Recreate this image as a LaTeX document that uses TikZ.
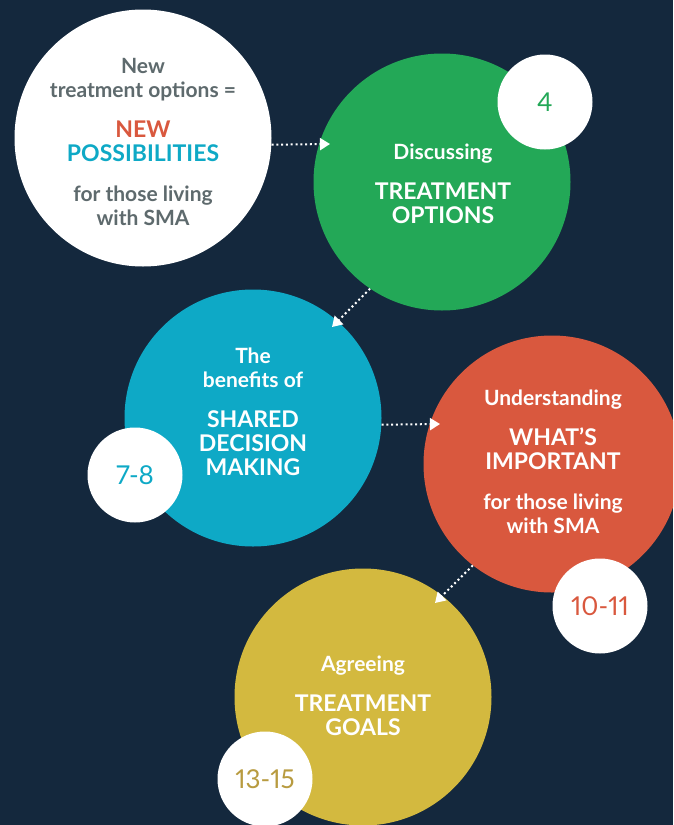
\documentclass[tikz,border=0pt]{standalone}
\usepackage{fontspec}
\setmainfont{Lato}
\newfontfamily\numfont{Lato}[Numbers=Proportional]
\usetikzlibrary{positioning, arrows.meta}

\definecolor{navy}{HTML}{14283D}
\definecolor{grn}{HTML}{23A857}
\definecolor{blu}{HTML}{0EA9C6}
\definecolor{orng}{HTML}{D9583E}
\definecolor{ylw}{HTML}{D3B93F}
\definecolor{gold}{HTML}{B89B40}
\definecolor{greytxt}{HTML}{5E6A6D}

\newcommand{\bigcaps}[1]{{\fontsize{23}{24}\selectfont #1}}

\tikzset{
  bigdisc/.style={circle, minimum size=257pt, inner sep=0pt},
  pagedisc/.style={circle, fill=white, minimum size=95pt, inner sep=0pt,
    font=\numfont\fontsize{26}{26}\selectfont},
  blurb/.style={align=center, inner sep=0pt, anchor=north, text=white,
    font=\bfseries\fontsize{21}{24}\selectfont},
  flow/.style={draw=white, line width=2pt, dash pattern=on 2pt off 2.8pt,
    -{Triangle[length=10pt,width=12pt]}}
}

\begin{document}
\begin{tikzpicture}[x=1pt, y=-1pt]
\useasboundingbox (0,0) rectangle (673,825);
\clip (0,0) rectangle (673,825);
\fill[navy] (0,0) rectangle (673,825);

% big circles
\node[bigdisc, fill=white] (newopt) at (143,138) {};
\node[bigdisc, fill=grn] (discuss) at (442,182) {};
\node[bigdisc, fill=blu] (shared) at (253,418) {};
\node[bigdisc, fill=orng] (important) at (552,464) {};
\node[bigdisc, fill=ylw] (goals) at (363,697) {};

% texts
\node[blurb, text=greytxt] (newtxt) at (143,58) {New\\treatment options =\\[16pt]
  \bigcaps{\textcolor{orng}{NEW}}\\\bigcaps{\textcolor{blu}{POSSIBILITIES}}\\[16pt]for those living\\with SMA};
\node[blurb] (discusstxt) at (443,144) {Discussing\\[16pt]\bigcaps{TREATMENT}\\\bigcaps{OPTIONS}};
\node[blurb] (sharedtxt) at (253,348) {The\\benefits of\\[16pt]\bigcaps{SHARED}\\\bigcaps{DECISION}\\\bigcaps{MAKING}};
\node[blurb] (importtxt) at (553,390) {Understanding\\[16pt]\bigcaps{WHAT’S}\\\bigcaps{IMPORTANT}\\[16pt]for those living\\with SMA};
\node[blurb] (goalstxt) at (363,656) {Agreeing\\[16pt]\bigcaps{TREATMENT}\\\bigcaps{GOALS}};

% page numbers
\node[pagedisc, text=grn] (pg4) at (545,102) {4};
\node[pagedisc, text=blu] (pg78) at (135,475) {7-8};
\node[pagedisc, text=orng] (pg1011) at (600,606) {10-11};
\node[pagedisc, text=gold] (pg1315) at (265,779) {13-15};

% arrow tips
\coordinate (tip1) at (330,144);
\coordinate (tip2) at (332,327);
\coordinate (tip3) at (440,424);
\coordinate (tip4) at (435,603);

\draw[flow] (newopt.-3) -- (tip1);
\draw[flow] (discuss.236) -- (tip2);
\draw[flow] (shared.-3) -- (tip3);
\draw[flow] (important.232) -- (tip4);
\end{tikzpicture}
\end{document}
